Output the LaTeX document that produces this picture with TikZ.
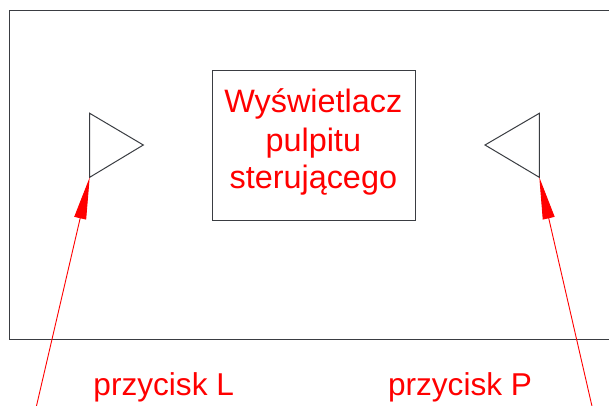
\documentclass[tikz,border=0pt]{standalone}
\usepackage{fontspec}
\setmainfont{Liberation Sans}
\usetikzlibrary{arrows.meta}
\definecolor{edge}{HTML}{3A3D42}
\tikzset{
  outline/.style={draw=edge, line width=1pt},
  label/.style={text=red, font=\fontsize{31.6}{38}\selectfont, inner sep=0pt},
  boxlabel/.style={label, font=\fontsize{32.4}{38}\selectfont},
  pointer/.style={draw=red, line width=0.9pt, -{Triangle[length=42pt,width=12pt,fill=red]}},
}
\begin{document}
\begin{tikzpicture}[x=1pt,y=1pt]
  \clip (0,0) rectangle (609,405);
  \fill[white] (0,0) rectangle (609,405);

  % panel outline
  \draw[outline] (9.5,66) rectangle (625,394);

  % display box
  \node[outline, minimum width=203.3pt, minimum height=149pt, inner sep=0pt] (disp) at (314.3,259.5) {};
  \node[boxlabel, anchor=base] (t1) at (313.3,292.3) {Wyświetlacz};
  \node[boxlabel, anchor=base] (t2) at (313.3,254.0) {pulpitu};
  \node[boxlabel, anchor=base] (t3) at (313.3,216.7) {sterującego};

  % left button marker
  \coordinate (lt) at (89.7,291.7);
  \coordinate (lr) at (143.3,260);
  \coordinate (lb) at (89.7,227.7);
  \draw[outline, line join=miter] (lt) -- (lr) -- (lb) -- cycle;

  % right button marker
  \coordinate (rt) at (539.3,291.7);
  \coordinate (rl) at (485,260);
  \coordinate (rb) at (539.3,227.7);
  \draw[outline, line join=miter] (rt) -- (rl) -- (rb) -- cycle;

  % pointer lines
  \coordinate (ls) at (36.0,-3);
  \coordinate (rs) at (592.4,-3);
  \draw[pointer] (ls) -- (lb);
  \draw[pointer] (rs) -- (rb);

  % captions
  \node[label, anchor=base] (capL) at (163.7,10) {przycisk L};
  \node[label, anchor=base] (capP) at (460,10) {przycisk P};
\end{tikzpicture}
\end{document}
